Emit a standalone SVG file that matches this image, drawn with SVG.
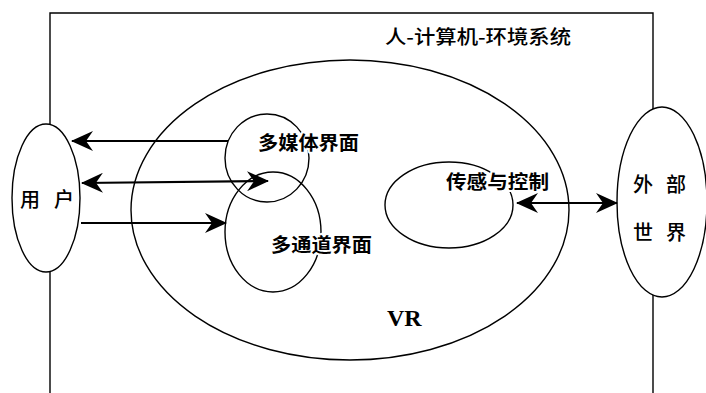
<svg xmlns="http://www.w3.org/2000/svg" width="706" height="393" viewBox="0 0 706 393">
<style>
.ln{fill:none;stroke:#000;stroke-width:1.4}
.wf{fill:#fff;stroke:#000;stroke-width:1.4}
.ar{fill:none;stroke:#000;stroke-width:2.2}
.t{font-family:"Noto Sans CJK SC","Noto Sans CJK JP",sans-serif;font-size:19px;font-weight:700;fill:#000;stroke:#fff;stroke-width:4;paint-order:stroke;stroke-linejoin:round}
.s{font-size:20px;font-weight:500}
.vr{font-family:"Liberation Serif",serif;font-size:24px;font-weight:bold;fill:#000}
</style>
<defs>
<marker id="ah" viewBox="0 0 22 20" refX="21" refY="10" markerWidth="22" markerHeight="20" markerUnits="userSpaceOnUse" orient="auto-start-reverse">
<path d="M0,0 L22,10 L0,20 L7,10 Z" fill="#000"/>
</marker>
</defs>
<g id="frame">
<path class="ln" d="M50,393 L50,13 L653,13 L653,393"/>
<text class="t" x="385" y="44" textLength="186" lengthAdjust="spacingAndGlyphs" style="font-weight:500">人-计算机-环境系统</text>
</g>
<g id="vr">
<ellipse class="ln" cx="350" cy="210" rx="219" ry="150"/>
<text class="vr" x="387" y="326">VR</text>
</g>
<g id="user">
<ellipse class="wf" cx="46" cy="198" rx="34" ry="74"/>
<text class="t s" x="20" y="207">用</text>
<text class="t s" x="54" y="207">户</text>
</g>
<g id="world">
<ellipse class="wf" cx="662" cy="202" rx="45" ry="95"/>
<text class="t s" x="633" y="192">外</text>
<text class="t s" x="666" y="192">部</text>
<text class="t s" x="633" y="240">世</text>
<text class="t s" x="666" y="240">界</text>
</g>
<g id="multimedia">
<ellipse class="ln" cx="267" cy="158" rx="42" ry="44"/>
</g>
<g id="multichannel">
<ellipse class="ln" cx="273" cy="232" rx="48" ry="60"/>
</g>
<g id="sensing">
<ellipse class="ln" cx="449" cy="205" rx="64" ry="43"/>
</g>
<g id="connectors">
<line class="ar" x1="228" y1="141" x2="72" y2="141" marker-end="url(#ah)"/>
<line class="ar" x1="82" y1="183" x2="268" y2="181" marker-start="url(#ah)" marker-end="url(#ah)"/>
<line class="ar" x1="81" y1="223" x2="226" y2="223" marker-end="url(#ah)"/>
<line class="ar" x1="517" y1="203" x2="617" y2="203" marker-start="url(#ah)" marker-end="url(#ah)"/>
</g>
<g id="labels">
<text class="t" x="258" y="150" textLength="101" lengthAdjust="spacingAndGlyphs">多媒体界面</text>
<text class="t" x="271" y="252" textLength="101" lengthAdjust="spacingAndGlyphs">多通道界面</text>
<text class="t" x="446" y="189" textLength="103" lengthAdjust="spacingAndGlyphs">传感与控制</text>
</g>
</svg>
